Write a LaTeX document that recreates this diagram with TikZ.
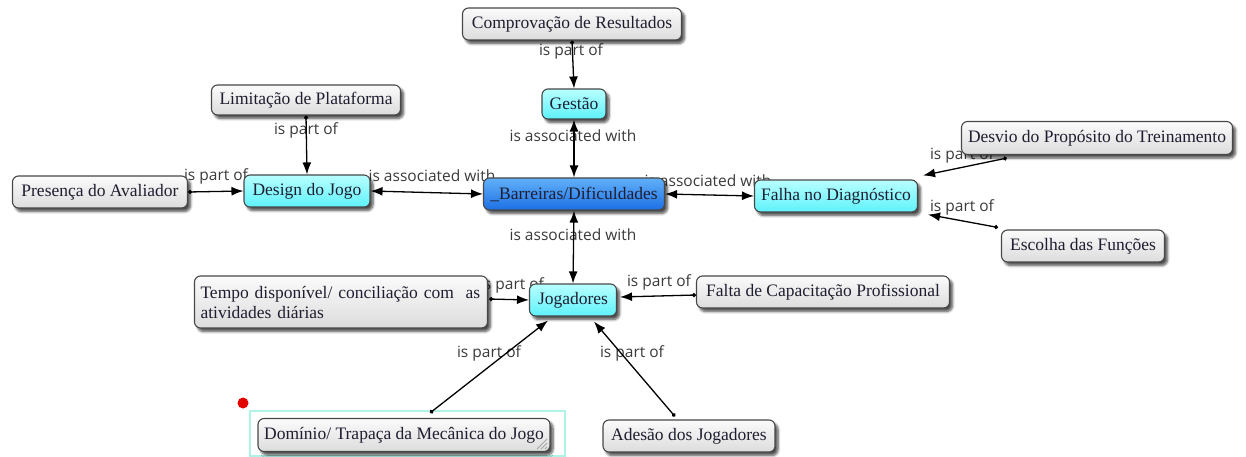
\documentclass[tikz,border=0pt]{standalone}
\usepackage{fontspec}
\setmainfont{Liberation Serif}
\newfontfamily\lblfont{Open Sans}
\usetikzlibrary{shadows,shadows.blur,calc,arrows.meta,backgrounds}

\definecolor{boxtext}{HTML}{1E1E30}
\definecolor{lbltext}{HTML}{3A3A3A}
\definecolor{cyantop}{HTML}{B8FFFF}
\definecolor{cyanbot}{HTML}{5EF2FA}
\definecolor{bluetop}{HTML}{62B0FA}
\definecolor{bluebot}{HTML}{1C70E4}
\definecolor{graytop}{HTML}{FBFBFB}
\definecolor{graybot}{HTML}{DCDCDC}
\definecolor{selframe}{HTML}{AEF3E6}

\begin{document}
\begin{tikzpicture}[x=1pt,y=-1pt,
  box/.style={draw=black!72, line width=1.1pt, rounded corners=6pt,
    font=\fontsize{17.5}{20}\selectfont, text=boxtext, inner xsep=6pt, inner ysep=0pt,
    minimum height=32pt,
    blur shadow={shadow xshift=3pt, shadow yshift=-3.5pt, shadow blur radius=2.5pt,
      shadow blur steps=6, shadow opacity=70}},
  graybox/.style={box, top color=graytop, bottom color=graybot},
  cyanbox/.style={box, top color=cyantop, bottom color=cyanbot},
  bluebox/.style={box, top color=bluetop, bottom color=bluebot},
  lbl/.style={font=\lblfont\fontsize{15.5}{17}\selectfont, text=lbltext, inner sep=0pt},
  part/.style={line width=1.3pt, {Circle[length=4pt]}-{Latex[length=12pt,width=9pt]}},
  assoc/.style={line width=1.3pt, {Latex[length=12pt,width=9pt]}-{Latex[length=12pt,width=9pt]}},
]
\useasboundingbox (0,0) rectangle (1246,457);

% selection frame and marker around the lower-left concept
\draw[selframe, line width=1.5pt] (250,411) rectangle (565,456);
\fill[red!90!black] (243,403) circle (5.5);

% concepts
\node[graybox, minimum width=219pt] (comp) at (572,24) {Comprovação de Resultados};
\node[cyanbox, minimum width=64pt, minimum height=30pt] (gestao) at (574,104) {Gestão};
\node[graybox, minimum width=189pt, minimum height=30pt] (limit) at (306,100) {Limitação de Plataforma};
\node[graybox, minimum width=175pt] (pres) at (100,192) {Presença do Avaliador};
\node[cyanbox, minimum width=126pt] (design) at (307,191) {Design do Jogo};
\node[bluebox, minimum width=181pt] (barr) at (574,194) {\_Barreiras/Dificuldades};
\node[cyanbox, minimum width=163pt] (falha) at (836,196) {Falha no Diagnóstico};
\node[graybox, minimum width=271pt, minimum height=33pt] (desvio) at (1097,138) {Desvio do Propósito do Treinamento};
\node[graybox, minimum width=163pt] (escolha) at (1083,246) {Escolha das Funções};
\node[graybox, minimum width=293pt, minimum height=52pt, align=left, text width=281pt,
      font=\fontsize{17.5}{20}\selectfont] (tempo) at (341,302)
      {Tempo disponível/ conciliação com\ \ as\\atividades diárias};
\node[cyanbox, minimum width=87pt] (jog) at (573,300) {Jogadores};
\node[graybox, minimum width=253pt] (falta) at (823,292) {Falta de Capacitação Profissional};
\node[graybox, minimum width=292pt, minimum height=33pt] (dom) at (404,435) {Domínio/ Trapaça da Mecânica do Jogo};
\node[graybox, minimum width=172pt] (ades) at (689,436) {Adesão dos Jogadores};

% resize grip on the selected concept
\draw[black!35, line width=0.8pt] (537,449) -- (547,439) (541,449) -- (547,443) (545,449) -- (547,447);

% linking phrases
\begin{scope}[on background layer]
\node[lbl] at (571,51) {is part of};
\node[lbl] at (573,136) {is associated with};
\node[lbl] at (306,130) {is part of};
\node[lbl] at (216,176) {is part of};
\node[lbl] at (432,176) {is associated with};
\node[lbl] at (708,181) {is associated with};
\node[lbl] at (573,235) {is associated with};
\node[lbl] at (962,155) {is part of};
\node[lbl] at (962,207) {is part of};
\node[lbl] at (512,285) {is part of};
\node[lbl] at (659,282) {is part of};
\node[lbl] at (489,353) {is part of};
\node[lbl] at (632,353) {is part of};
\end{scope}

% links
\draw[part] (comp.south) -- (gestao.north);
\draw[assoc] (gestao.south) -- (barr.north);
\draw[part] (limit.south) -- (design.north);
\draw[part] (pres.east) -- (design.west);
\draw[assoc] (design.east) -- (barr.west);
\draw[assoc] (barr.east) -- (falha.west);
\draw[assoc] (barr.south) -- (jog.north);
\draw[part] ($(desvio.south west)+(46,3)$) -- ($(falha.north east)+(5,-4)$);
\draw[part] ($(escolha.north west)+(-3,-2)$) -- ($(falha.south east)+(10,2)$);
\draw[part] ($(tempo.east)+(1,-3)$) -- (jog.west);
\draw[part] ($(falta.west)+(0,3)$) -- ($(jog.east)+(3,-3)$);
\draw[part] ($(dom.north)+(26,-5)$) -- ($(jog.south)+(-25,4)$);
\draw[part] ($(ades.north)+(-14,-3)$) -- ($(jog.south)+(21,5)$);
\end{tikzpicture}
\end{document}
